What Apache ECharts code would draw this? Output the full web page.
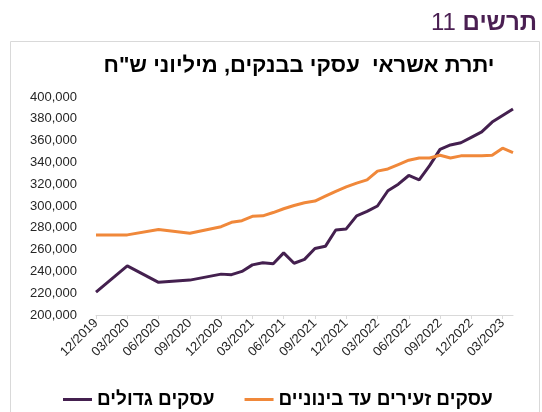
<!DOCTYPE html>
<html>
<head>
<meta charset="utf-8">
<script src="https://cdn.jsdelivr.net/npm/echarts@6/dist/echarts.min.js"></script>
<style>
  html, body { margin: 0; padding: 0; background: #fff; }
  #chart { width: 542px; height: 412px; }
</style>
</head>
<body>
<div id="chart"></div>
<script>
// חודשים - ציר X
const months = [
    '12/2019', '01/2020', '02/2020', '03/2020', '04/2020', '05/2020', '06/2020',
    '07/2020', '08/2020', '09/2020', '10/2020', '11/2020', '12/2020',
    '01/2021', '02/2021', '03/2021', '04/2021', '05/2021', '06/2021',
    '07/2021', '08/2021', '09/2021', '10/2021', '11/2021', '12/2021',
    '01/2022', '02/2022', '03/2022', '04/2022', '05/2022', '06/2022',
    '07/2022', '08/2022', '09/2022', '10/2022', '11/2022', '12/2022',
    '01/2023', '02/2023', '03/2023', '04/2023'
];

// עסקים גדולים (בשנה הראשונה רק נתונים רבעוניים)
const largeBiz = [
    221000, null, null, 245000, null, null, 230000, null, null, 232000, null, null, 237500,
    237000, 240000, 246000, 248000, 247000, 257000,
    247500, 251000, 261000, 263000, 278000, 279000,
    291000, 295000, 300000, 314000, 320000, 328000,
    324000, 337000, 352000, 356000, 358000, 363000,
    368000, 377000, 383000, 389000
];

// עסקים זעירים עד בינוניים
const smallBiz = [
    273500, null, null, 273500, null, null, 278500, null, null, 275000, null, null, 281000,
    285000, 286500, 290500, 291000, 294000, 297500,
    300500, 303000, 304500, 309000, 313500, 317500,
    321000, 324000, 332000, 334000, 338000, 342000,
    344000, 344000, 346500, 344000, 346000, 346000,
    346000, 346500, 353000, 349000
];

const seriesNames = ['עסקים גדולים', 'עסקים זעירים עד בינוניים'];

const chart = echarts.init(document.getElementById('chart'));
const font = "'Liberation Sans', Arial, 'DejaVu Sans', sans-serif";

chart.setOption({
    animation: false,
    textStyle: { fontFamily: font },
    title: {
        text: '{n|11 }{b|תרשים}',
        right: 5,
        top: 11,
        padding: 0,
        textStyle: {
            rich: {
                n: { fontSize: 24, fontWeight: 'normal', color: '#4a1f52', fontFamily: font },
                b: { fontSize: 24, fontWeight: 'bold', color: '#4a1f52', fontFamily: font }
            }
        }
    },
    graphic: [
        {
            type: 'rect',
            shape: { x: 10.5, y: 41.5, width: 529, height: 400 },
            style: { fill: 'none', stroke: '#d9d9d9', lineWidth: 1 }
        },
        {
            type: 'text',
            x: 299,
            y: 66,
            style: {
                text: 'יתרת אשראי  עסקי בבנקים, מיליוני ש"ח',
                font: 'bold 22px ' + font,
                fill: '#000',
                textAlign: 'center',
                textVerticalAlign: 'middle'
            }
        }
    ],
    legend: {
        data: seriesNames,
        left: 58,
        top: 385,
        icon: 'rect',
        itemWidth: 29,
        itemHeight: 3,
        itemGap: 30,
        textStyle: { fontSize: 19, fontWeight: 'bold', color: '#000', fontFamily: font }
    },
    grid: {
        left: 96,
        right: 29,
        top: 97,
        bottom: 97
    },
    xAxis: {
        type: 'category',
        data: months,
        boundaryGap: false,
        axisLine: { lineStyle: { color: '#d9d9d9' } },
        axisTick: { interval: 2, length: 4, lineStyle: { color: '#d9d9d9' } },
        axisLabel: {
            interval: 2,
            rotate: 45,
            fontSize: 13,
            color: '#262626',
            margin: 6
        }
    },
    yAxis: {
        type: 'value',
        min: 200000,
        max: 400000,
        interval: 20000,
        splitLine: { show: false },
        axisLine: { show: false },
        axisTick: { show: false },
        axisLabel: {
            fontSize: 13,
            color: '#262626',
            margin: 19,
            formatter: function (v) { return v.toLocaleString('en-US'); }
        }
    },
    series: [
        {
            name: seriesNames[0],
            type: 'line',
            data: largeBiz,
            connectNulls: true,
            showSymbol: false,
            lineStyle: { width: 3, color: '#44204f' },
            itemStyle: { color: '#44204f' }
        },
        {
            name: seriesNames[1],
            type: 'line',
            data: smallBiz,
            connectNulls: true,
            showSymbol: false,
            lineStyle: { width: 3, color: '#f0883a' },
            itemStyle: { color: '#f0883a' }
        }
    ]
});
</script>
</body>
</html>
